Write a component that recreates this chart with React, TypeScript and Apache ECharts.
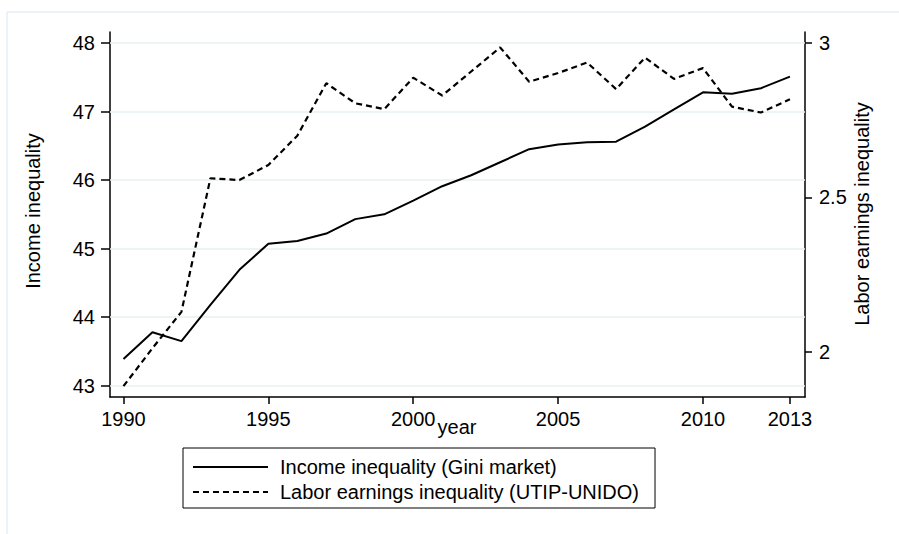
import React, { useEffect, useRef } from "react";
import * as echarts from "echarts";

const years = [1990, 1991, 1992, 1993, 1994, 1995, 1996, 1997, 1998, 1999, 2000, 2001, 2002, 2003, 2004, 2005, 2006, 2007, 2008, 2009, 2010, 2011, 2012, 2013];
const incomeGini = [43.39, 43.78, 43.65, 44.18, 44.69, 45.07, 45.11, 45.22, 45.43, 45.5, 45.7, 45.91, 46.07, 46.26, 46.45, 46.52, 46.55, 46.56, 46.78, 47.03, 47.28, 47.26, 47.34, 47.51];
const laborUtip = [1.888, 2.011, 2.129, 2.562, 2.556, 2.605, 2.7, 2.87, 2.805, 2.786, 2.888, 2.83, 2.908, 2.986, 2.875, 2.903, 2.937, 2.851, 2.953, 2.884, 2.919, 2.794, 2.775, 2.818];
const xTicks = [1990, 1995, 2000, 2005, 2010, 2013];
const leftTicks = [43, 44, 45, 46, 47, 48];
const rightTicks = [2, 2.5, 3];
const seriesNames = ["Income inequality (Gini market)", "Labor earnings inequality (UTIP-UNIDO)"];

const FONT = "'Liberation Sans', Arial, sans-serif";

export default function App() {
  const ref = useRef<HTMLDivElement>(null);
  useEffect(() => {
    if (!ref.current) return;
    const chart = echarts.init(ref.current, null, { renderer: "svg" });
    const axisText = { color: "#000", fontSize: 20, fontFamily: FONT };
    chart.setOption({
      animation: false,
      backgroundColor: "#fff",
      textStyle: { fontFamily: FONT },
      grid: { left: 110, right: 94, top: 32, bottom: 137, containLabel: false },
      legend: {
        orient: "vertical",
        left: 183,
        top: 448,
        padding: [9, 16, 6, 9],
        itemGap: 5,
        itemWidth: 75,
        itemHeight: 14,
        itemStyle: { color: "rgba(0,0,0,0)", borderWidth: 0, opacity: 0 },
        borderColor: "#000",
        borderWidth: 1,
        borderRadius: 0,
        selectedMode: false,
        textStyle: { color: "#000", fontSize: 20, fontFamily: FONT, lineHeight: 20, padding: [0, 0, 0, 7] },
        data: seriesNames,
      },
      xAxis: {
        type: "value",
        min: 1989.535,
        max: 2013.52,
        axisLine: { show: true, lineStyle: { color: "#000", width: 1.5 } },
        axisTick: { show: true, length: 7, customValues: xTicks, lineStyle: { color: "#000", width: 1.5 } },
        axisLabel: { customValues: xTicks, margin: 12, formatter: (v: number) => String(v), ...axisText },
        splitLine: { show: false },
      },
      yAxis: [
        {
          type: "value",
          position: "left",
          min: 42.835,
          max: 48.16,
          axisLine: { show: true, lineStyle: { color: "#000", width: 1.5 } },
          axisTick: { show: true, length: 9, customValues: leftTicks, lineStyle: { color: "#000", width: 1.5 } },
          axisLabel: { customValues: leftTicks, margin: 15, ...axisText },
          splitLine: { show: false },
        },
        {
          type: "value",
          position: "right",
          min: 1.853,
          max: 3.036,
          axisLine: { show: true, lineStyle: { color: "#000", width: 1.5 } },
          axisTick: { show: true, length: 7, customValues: rightTicks, lineStyle: { color: "#000", width: 1.5 } },
          axisLabel: { customValues: rightTicks, margin: 14, ...axisText },
          splitLine: { show: false },
        },
      ],
      series: [
        {
          name: seriesNames[0],
          type: "line",
          yAxisIndex: 0,
          symbol: "none",
          z: 3,
          lineStyle: { color: "#000", width: 2, type: "solid" },
          itemStyle: { color: "#000" },
          data: years.map((y, i) => [y, incomeGini[i]]),
          markLine: {
            silent: true,
            z: 1,
            symbol: ["none", "none"],
            label: { show: false },
            lineStyle: { color: "#e8eff2", width: 1.5, type: "solid" },
            data: leftTicks.map((v) => ({ yAxis: v })),
          },
        },
        {
          name: seriesNames[1],
          type: "line",
          yAxisIndex: 1,
          symbol: "none",
          z: 3,
          lineStyle: { color: "#000", width: 2.2, type: [6, 4] },
          itemStyle: { color: "#000" },
          data: years.map((y, i) => [y, laborUtip[i]]),
        },
      ],
      graphic: [
        { type: "line", shape: { x1: 7, y1: 12, x2: 899, y2: 12 }, style: { stroke: "#e6eef2", lineWidth: 1.5 }, silent: true },
        { type: "line", shape: { x1: 7, y1: 12, x2: 7, y2: 534 }, style: { stroke: "#e6eef2", lineWidth: 1.5 }, silent: true },
        {
          type: "text",
          x: 33,
          y: 211,
          rotation: Math.PI / 2,
          style: { text: "Income inequality", fill: "#000", font: `20px ${FONT}`, align: "center", verticalAlign: "middle" },
        },
        {
          type: "text",
          x: 862,
          y: 214,
          rotation: Math.PI / 2,
          style: { text: "Labor earnings inequality", fill: "#000", font: `20px ${FONT}`, align: "center", verticalAlign: "middle" },
        },
        {
          type: "text",
          x: 457,
          y: 427,
          style: { text: "year", fill: "#000", font: `20px ${FONT}`, align: "center", verticalAlign: "middle" },
        },
      ],
    });
    return () => chart.dispose();
  }, []);
  return <div ref={ref} style={{ width: 899, height: 534, position: "absolute", left: 0, top: 0 }} />;
}
